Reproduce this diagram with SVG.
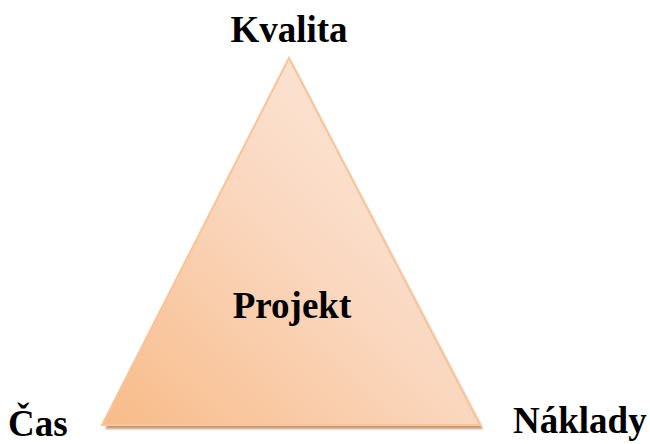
<svg xmlns="http://www.w3.org/2000/svg" width="650" height="444" viewBox="0 0 650 444">
  <defs>
    <linearGradient id="fillGrad" x1="0" y1="1" x2="1" y2="0">
      <stop offset="0" stop-color="#F8BB88"/>
      <stop offset="0.5" stop-color="#FAD7BF"/>
      <stop offset="1" stop-color="#FDEDE2"/>
    </linearGradient>
    <filter id="shade" x="-10%" y="-10%" width="120%" height="120%">
      <feGaussianBlur stdDeviation="0.8"/>
    </filter>
  </defs>
  <style>
    .lbl { font-family: "Liberation Serif", "Times New Roman", serif; font-weight: bold; font-size: 37px; fill: #000; }
  </style>
  <rect width="650" height="444" fill="#fff"/>
  <g id="triangle">
    <polygon points="291,62 105,429 483,429" fill="#C49A78" filter="url(#shade)"/>
    <polygon points="289,58 102,425 480,425" fill="url(#fillGrad)" stroke="#F9C49A" stroke-width="2" stroke-linejoin="miter"/>
  </g>
  <g id="label-projekt"><text class="lbl" x="292" y="318" text-anchor="middle">Projekt</text></g>
  <g id="label-kvalita"><text class="lbl" x="289" y="42" text-anchor="middle">Kvalita</text></g>
  <g id="label-cas"><text class="lbl" x="8" y="436">Čas</text></g>
  <g id="label-naklady"><text class="lbl" x="513" y="433">Náklady</text></g>
</svg>
